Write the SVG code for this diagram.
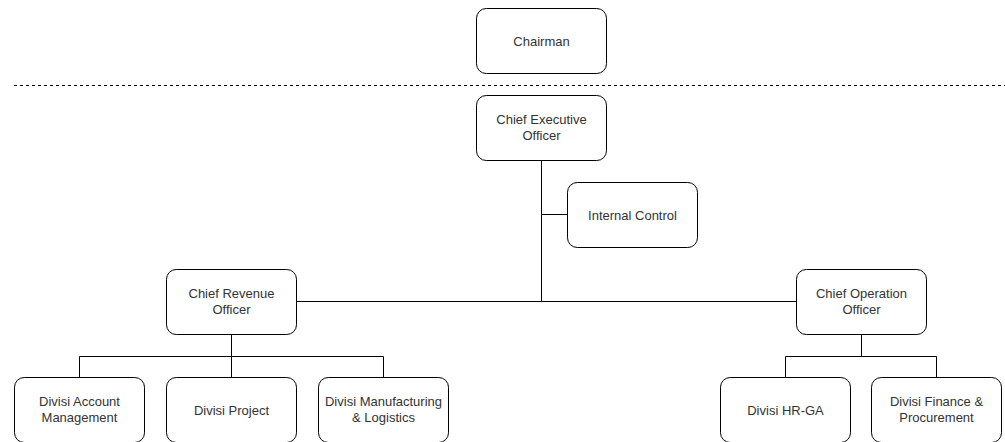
<svg xmlns="http://www.w3.org/2000/svg" width="1005" height="442" viewBox="0 0 1005 442">
  <style>
    .box { fill: #ffffff; stroke: #000000; stroke-width: 1; }
    .lbl { font-family: "Liberation Sans", Arial, sans-serif; font-size: 13px; fill: #333333; text-anchor: middle; }
    .wire { fill: none; stroke: #000000; stroke-width: 1; }
    .sep { fill: none; stroke: #000000; stroke-width: 1; stroke-dasharray: 3 3; }
  </style>
  <rect width="1005" height="442" fill="#ffffff"/>

  <!-- board / management separator -->
  <line class="sep" x1="14" y1="85.5" x2="1005" y2="85.5"/>

  <!-- reporting lines -->
  <g id="connectors">
    <path class="wire" d="M541.5 160.5 V301.5"/>
    <path class="wire" d="M541.5 214.5 H567.5"/>
    <path class="wire" d="M296.5 301.5 H796.5"/>
    <path class="wire" d="M231.5 334.5 V356.5"/>
    <path class="wire" d="M79.5 377.5 V356.5 H383.5 V377.5"/>
    <path class="wire" d="M231.5 356.5 V377.5"/>
    <path class="wire" d="M861.5 334.5 V356.5"/>
    <path class="wire" d="M785.5 377.5 V356.5 H936.5 V377.5"/>
  </g>

  <g id="chairman">
    <rect class="box" x="476.5" y="8.5" width="130" height="65" rx="9.75"/>
    <text class="lbl" x="541.5" y="45.5">Chairman</text>
  </g>

  <g id="ceo">
    <rect class="box" x="476.5" y="95.5" width="130" height="65" rx="9.75"/>
    <text class="lbl" x="541.5" y="124">Chief Executive</text>
    <text class="lbl" x="541.5" y="140">Officer</text>
  </g>

  <g id="internal-control">
    <rect class="box" x="567.5" y="182.5" width="130" height="65" rx="9.75"/>
    <text class="lbl" x="632.5" y="219.5">Internal Control</text>
  </g>

  <g id="cro">
    <rect class="box" x="166.5" y="269.5" width="130" height="65" rx="9.75"/>
    <text class="lbl" x="231.5" y="298">Chief Revenue</text>
    <text class="lbl" x="231.5" y="314">Officer</text>
  </g>

  <g id="coo">
    <rect class="box" x="796.5" y="269.5" width="130" height="65" rx="9.75"/>
    <text class="lbl" x="861.5" y="298">Chief Operation</text>
    <text class="lbl" x="861.5" y="314">Officer</text>
  </g>

  <g id="div-account">
    <rect class="box" x="14.5" y="377.5" width="130" height="65" rx="9.75"/>
    <text class="lbl" x="79.5" y="406">Divisi Account</text>
    <text class="lbl" x="79.5" y="422">Management</text>
  </g>

  <g id="div-project">
    <rect class="box" x="166.5" y="377.5" width="130" height="65" rx="9.75"/>
    <text class="lbl" x="231.5" y="414.5">Divisi Project</text>
  </g>

  <g id="div-manufacturing">
    <rect class="box" x="318.5" y="377.5" width="130" height="65" rx="9.75"/>
    <text class="lbl" x="383.5" y="406">Divisi Manufacturing</text>
    <text class="lbl" x="383.5" y="422">&amp; Logistics</text>
  </g>

  <g id="div-hrga">
    <rect class="box" x="720.5" y="377.5" width="130" height="65" rx="9.75"/>
    <text class="lbl" x="785.5" y="414.5">Divisi HR-GA</text>
  </g>

  <g id="div-finance">
    <rect class="box" x="871.5" y="377.5" width="130" height="65" rx="9.75"/>
    <text class="lbl" x="936.5" y="406">Divisi Finance &amp;</text>
    <text class="lbl" x="936.5" y="422">Procurement</text>
  </g>
</svg>
